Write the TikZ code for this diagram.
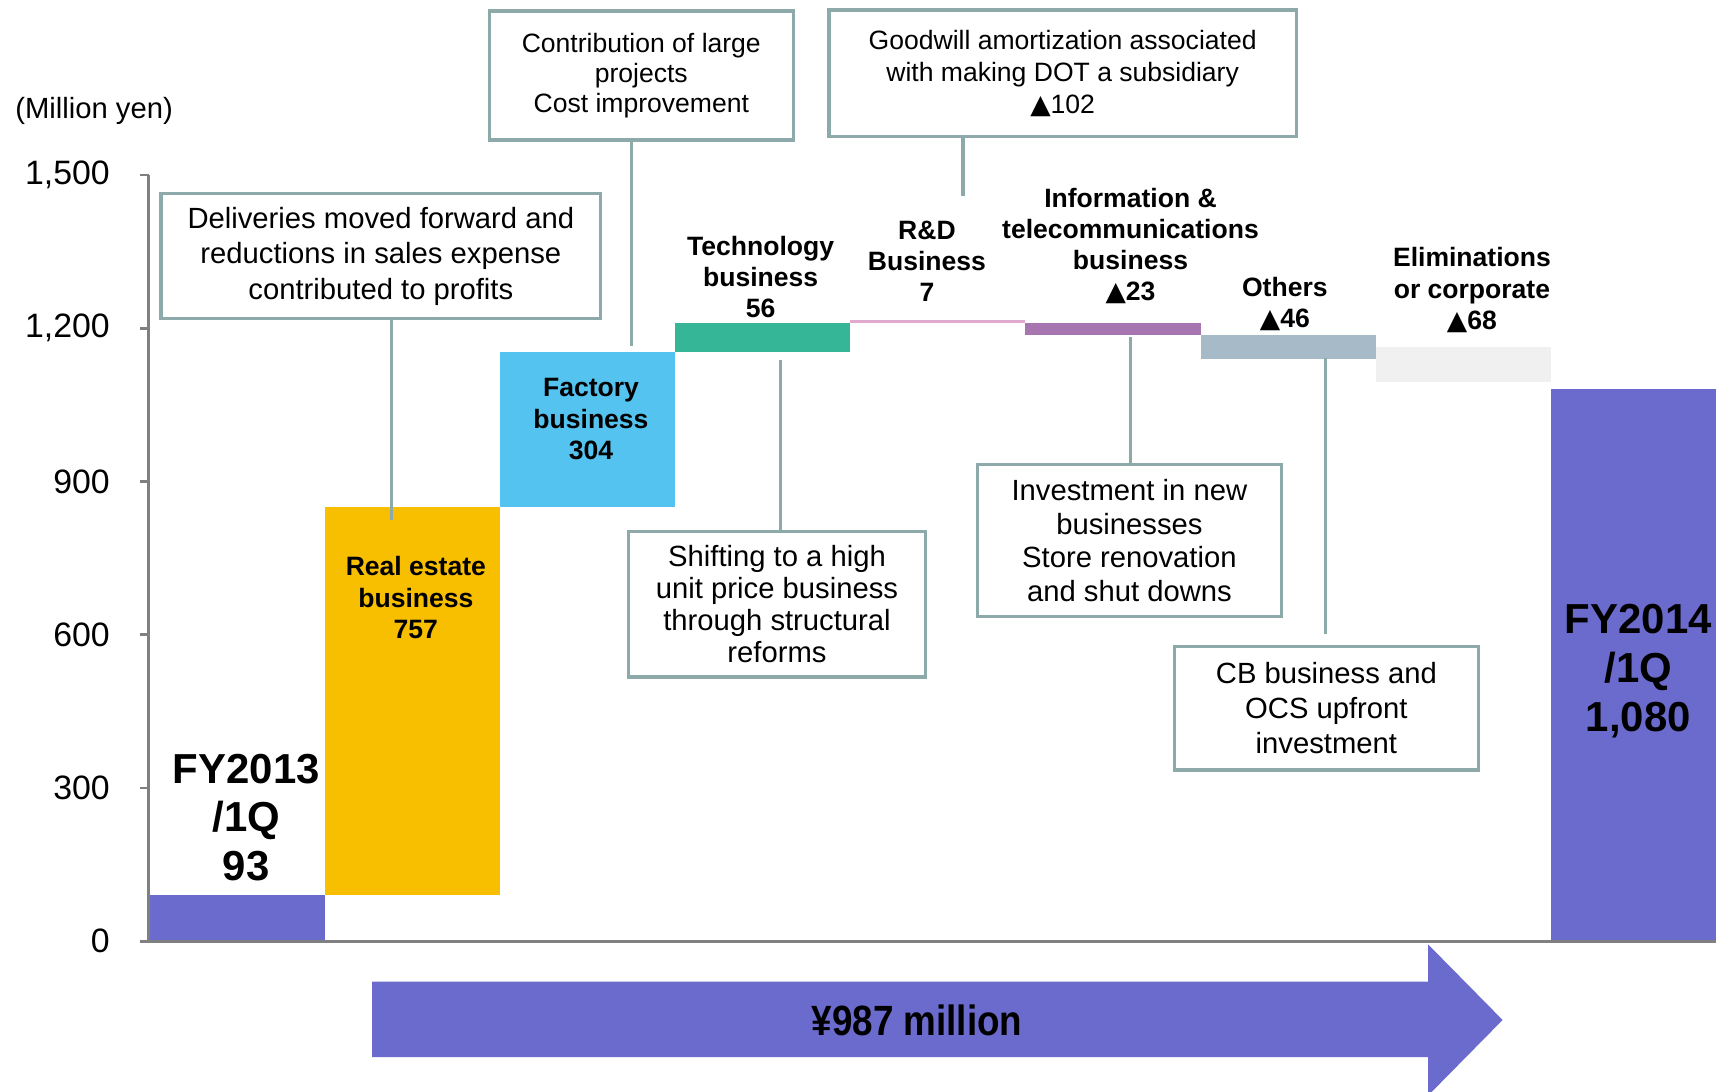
\documentclass[tikz,border=0pt]{standalone}
\usepackage{fontspec}
\setmainfont{Liberation Sans}
\newfontfamily\trifont{DejaVu Sans}
\newcommand{\tri}{{\trifont ▲}}
\definecolor{barblue}{HTML}{6B6BCD}
\definecolor{gold}{HTML}{F8BE00}
\definecolor{sky}{HTML}{55C3F0}
\definecolor{teal}{HTML}{35B797}
\definecolor{pink}{HTML}{E2A9CF}
\definecolor{mauve}{HTML}{A775AF}
\definecolor{slate}{HTML}{A7BAC8}
\definecolor{pale}{HTML}{F0F0F0}
\definecolor{linkgray}{HTML}{8EA9AA}
\definecolor{axisgray}{HTML}{808080}
\begin{document}
\begin{tikzpicture}[x=0.1mm,y=-0.1mm,
  callout/.style={draw=linkgray,line width=0.3mm,fill=white,inner sep=0pt,align=center},
  link/.style={linkgray,line width=0.3mm},
  barlabel/.style={align=center,font=\bfseries\fontsize{6.9}{8.1}\selectfont},
  biglabel/.style={align=center,font=\bfseries\fontsize{10.9}{12.7}\selectfont},
  ticklabel/.style={anchor=east,inner sep=0pt,font=\fontsize{8.8}{10}\selectfont}]
\clip (0,0) rectangle (1568,997);
\foreach \x/\ya/\yb/\c in {137/818/860/barblue,297/463/818/gold,457/322/463/sky,617/295/322/teal,
  777/292/295/pink,937/295/306/mauve,1097/306/328/slate,1257/317/349/pale,1417/355/860/barblue}
  \fill[\c] (\x,\ya) rectangle ({\x+160},\yb);
\draw[axisgray,line width=0.25mm] (136,160) -- (136,860) -- (1568,860);
\foreach \v/\t in {0/0,300/300,600/600,900/900,1200/{1,200},1500/{1,500}} {
  \draw[axisgray,line width=0.25mm] (128,{860-0.4667*\v}) -- (136,{860-0.4667*\v});
  \node[ticklabel] (tick\v) at (101,{860-0.4667*\v}) {\t};
}
\node[font=\fontsize{7.6}{9}\selectfont] (unit) at (86,101) {(Million yen)};
\fill[barblue] (340,897) -- (1305,897) -- (1305,863) -- (1373,932) -- (1305,1001) -- (1305,966) -- (340,966) -- cycle;
\node[xscale=0.87,font=\bfseries\fontsize{11}{13}\selectfont] (total) at (838,932) {¥987 million};
\node[biglabel] (fy13) at (225,747) {FY2013\\/1Q\\93};
\node[barlabel] (realestate) at (380,546) {Real estate\\business\\757};
\node[barlabel] (factory) at (540,383) {Factory\\business\\304};
\node[barlabel] (tech) at (695,253) {Technology\\business\\56};
\node[barlabel] (rnd) at (847,239) {R\&D\\Business\\7};
\node[barlabel] (infotel) at (1033,225) {Information \&\\telecommunications\\business\\\tri23};
\node[barlabel] (others) at (1174,278) {Others\\\tri46};
\node[barlabel] (elim) at (1345,265) {Eliminations\\or corporate\\\tri68};
\node[biglabel] (fy14) at (1497,613) {FY2014\\/1Q\\1,080};
\node[callout,minimum width=40.2mm,minimum height=11.4mm,font=\fontsize{7.6}{9.25}\selectfont] (deliveries) at (348,234)
  {Deliveries moved forward and\\reductions in sales expense\\contributed to profits};
\node[callout,minimum width=27.8mm,minimum height=11.8mm,font=\fontsize{6.9}{7.7}\selectfont] (largeproj) at (586,69)
  {Contribution of large\\projects\\Cost improvement};
\node[callout,minimum width=42.7mm,minimum height=11.6mm,font=\fontsize{6.9}{8.25}\selectfont] (goodwill) at (971,67)
  {Goodwill amortization associated\\with making DOT a subsidiary\\\tri102};
\node[callout,minimum width=27.1mm,minimum height=13.3mm,font=\fontsize{7.6}{8.25}\selectfont] (shifting) at (710,552)
  {Shifting to a high\\unit price business\\through structural\\reforms};
\node[callout,minimum width=27.8mm,minimum height=13.9mm,font=\fontsize{7.6}{8.7}\selectfont] (newbiz) at (1032,494)
  {Investment in new\\businesses\\Store renovation\\and shut downs};
\node[callout,minimum width=27.8mm,minimum height=11.3mm,font=\fontsize{7.6}{9.1}\selectfont] (cbocs) at (1212,647)
  {CB business and\\OCS upfront\\investment};
\coordinate (reA) at (358,475);
\coordinate (fcB) at (577,316);
\coordinate (rdC) at (880,179);
\coordinate (tcD) at (713,329);
\coordinate (itE) at (1033,308);
\coordinate (otF) at (1211,327);
\coordinate (otFend) at ([yshift=1mm]cbocs.north -| otF);
\draw[link] (deliveries.south -| reA) -- (reA);
\draw[link] (largeproj.south -| fcB) -- (fcB);
\draw[link] (goodwill.south -| rdC) -- (rdC);
\draw[link] (tcD) -- (shifting.north -| tcD);
\draw[link] (itE) -- (newbiz.north -| itE);
\draw[link] (otF) -- (otFend);
\end{tikzpicture}
\end{document}
